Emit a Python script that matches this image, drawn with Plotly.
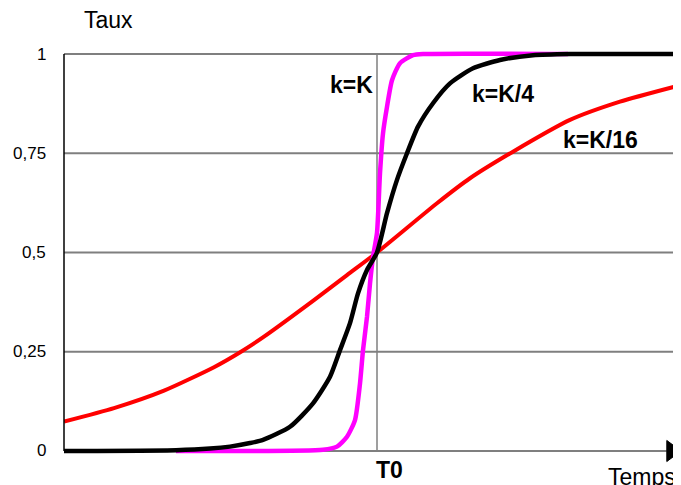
import plotly.graph_objects as go

# Time offsets relative to T0 (arbitrary units) and rates
t_k = [-201, -54, -40, -30, -22, -17, -14, -10, -7, -4, 0, 3, 6, 10, 15, 23, 36, 46, 191]
y_k = [0.0, 0.003, 0.011, 0.036, 0.078, 0.170, 0.254, 0.338, 0.422, 0.489, 0.55, 0.700, 0.800,
       0.867, 0.934, 0.977, 0.997, 1.0, 1.0]

t_k4 = [-313, -201, -167, -147, -127, -114, -87, -64, -47, -37, -27, -19, -10, 0, 10, 20, 30,
        41, 56, 73, 96, 123, 156, 193, 304]
y_k4 = [0.0, 0.002, 0.006, 0.011, 0.020, 0.028, 0.061, 0.120, 0.187, 0.254, 0.322, 0.397, 0.456,
        0.5, 0.599, 0.683, 0.750, 0.817, 0.876, 0.926, 0.964, 0.985, 0.997, 1.0, 1.0]

t_k16 = [-313, -263, -213, -163, -136, -113, -63, -30, 0, 60, 93, 136, 193, 243, 304]
y_k16 = [0.074, 0.108, 0.152, 0.211, 0.25, 0.288, 0.380, 0.443, 0.5, 0.624, 0.687, 0.754, 0.834,
         0.880, 0.922]

y_ticks = [0, 0.25, 0.5, 0.75, 1]
y_tick_labels = ["0", "0,25", "0,5", "0,75", "1"]
curve_labels = ["k=K", "k=K/4", "k=K/16"]

FONT = "Arial, Liberation Sans, sans-serif"

fig = go.Figure()
fig.add_trace(go.Scatter(x=t_k16, y=y_k16, mode="lines", line=dict(color="#ff0000", width=4, shape="spline", smoothing=0.6),
                         hoverinfo="skip"))
fig.add_trace(go.Scatter(x=t_k, y=y_k, mode="lines", line=dict(color="#ff00ff", width=4.5, shape="spline", smoothing=0.6),
                         hoverinfo="skip"))
fig.add_trace(go.Scatter(x=t_k4, y=y_k4, mode="lines", line=dict(color="#000000", width=4.5, shape="spline", smoothing=0.6),
                         hoverinfo="skip"))

shapes = []
grey = "#7f7f7f"
for v in y_ticks:
    shapes.append(dict(type="line", xref="paper", yref="y", x0=0, x1=1 if v > 0 else 0.977, y0=v, y1=v,
                       line=dict(color=grey, width=2), layer="below"))
# vertical line at T0
shapes.append(dict(type="line", xref="x", yref="y", x0=0, x1=0, y0=0, y1=1,
                   line=dict(color=grey, width=1.5), layer="below"))
# left axis
shapes.append(dict(type="line", xref="paper", yref="y", x0=0, x1=0, y0=0, y1=1,
                   line=dict(color="black", width=1.5)))
# arrow head of time axis (paper coordinates so it is not clipped)
y0p = 0.0101 / 1.0202
shapes.append(dict(type="path", xref="paper", yref="paper",
                   path=f"M 0.977,{y0p - 0.026} L 1.0,{y0p} L 0.977,{y0p + 0.026} Z",
                   fillcolor="black", line=dict(color="black", width=1), layer="above"))

annotations = []
for v, lab in zip(y_ticks, y_tick_labels):
    annotations.append(dict(x=0, y=v, xref="paper", yref="y", text=lab, showarrow=False,
                            xanchor="right", yanchor="middle", xshift=-16,
                            font=dict(family=FONT, size=17, color="black")))
annotations.append(dict(x=(108 - 64) / 617, y=(455 - 20) / 405, xref="paper", yref="paper", text="Taux",
                        showarrow=False, xanchor="center", yanchor="middle",
                        font=dict(family=FONT, size=23, color="black")))
annotations.append(dict(x=(606 - 64) / 617, y=(455 - 477) / 405, xref="paper", yref="paper", text="Temps",
                        showarrow=False, xanchor="left", yanchor="middle",
                        font=dict(family=FONT, size=23, color="black")))
annotations.append(dict(x=12, y=(455 - 470) / 405, xref="x", yref="paper", text="<b>T0</b>", showarrow=False,
                        xanchor="center", yanchor="middle", font=dict(family=FONT, size=23, color="black")))
for (lx, ly), lab in zip([(-26, 0.922), (126, 0.899), (223, 0.783)], curve_labels):
    annotations.append(dict(x=lx, y=ly, xref="x", yref="y", text="<b>" + lab + "</b>", showarrow=False,
                            xanchor="center", yanchor="middle", font=dict(family=FONT, size=23, color="black")))

# The page body has an 8px margin, so the figure is shifted by 8px; compensate.
fig.update_layout(
    width=673, height=477,
    margin=dict(l=56, r=0, t=42, b=30, autoexpand=False),
    paper_bgcolor="white", plot_bgcolor="white",
    showlegend=False,
    xaxis=dict(range=[-313, 304], showgrid=False, zeroline=False, showticklabels=False, showline=False),
    yaxis=dict(range=[-0.0101, 1.0101], showgrid=False, zeroline=False, showticklabels=False, showline=False),
    shapes=shapes, annotations=annotations,
)
fig.write_html("out.html")
